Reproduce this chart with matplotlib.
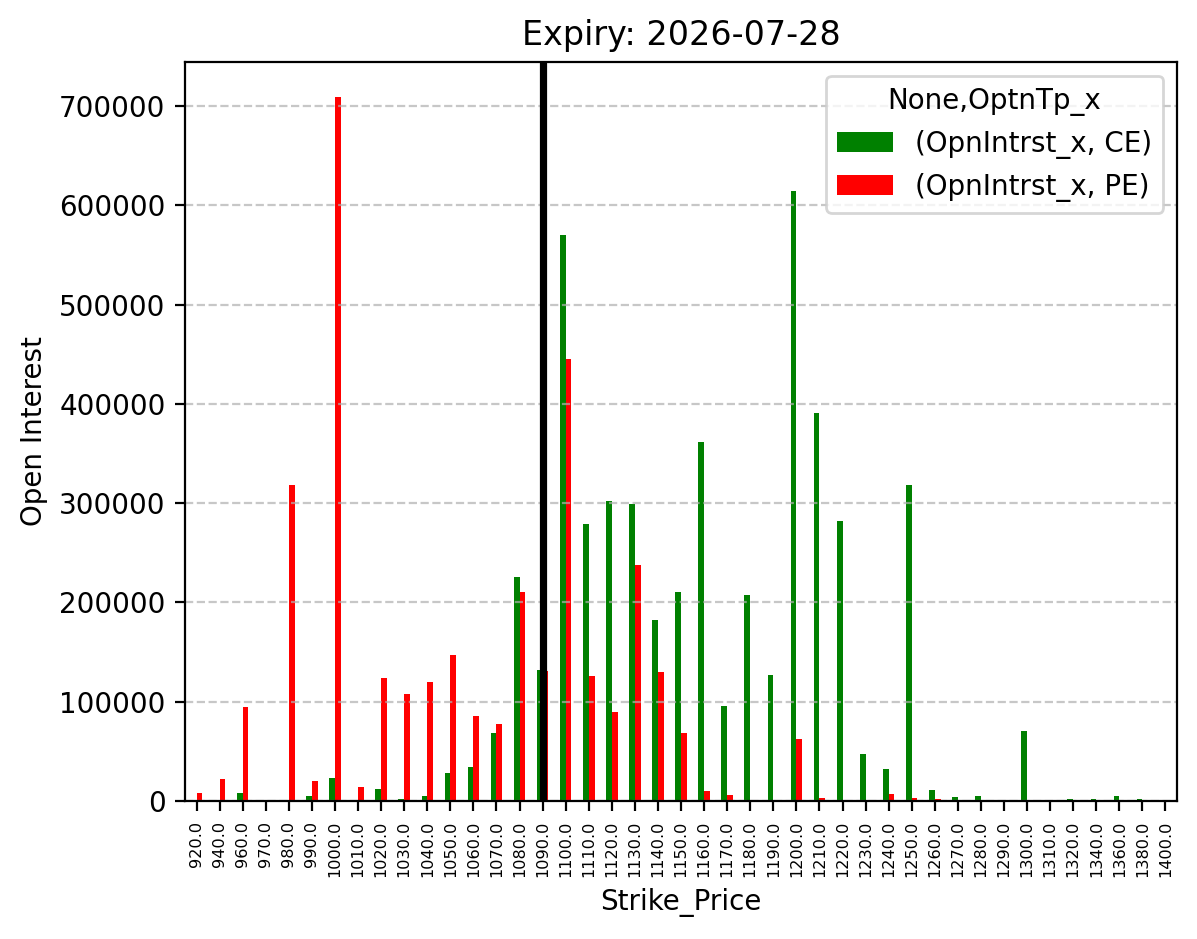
import numpy as np
import pandas as pd
import matplotlib
matplotlib.use("Agg")
import matplotlib.pyplot as plt

strikes = [920, 940, 960, 970, 980, 990, 1000, 1010, 1020, 1030, 1040, 1050, 1060, 1070,
           1080, 1090, 1100, 1110, 1120, 1130, 1140, 1150, 1160, 1170, 1180, 1190, 1200,
           1210, 1220, 1230, 1240, 1250, 1260, 1270, 1280, 1290, 1300, 1310, 1320, 1340,
           1360, 1380, 1400]

ce_oi = [0, 0, 8000, 0, 0, 4500, 23000, 0, 12000, 1500, 4500, 28000, 34000, 68500,
         225500, 132000, 570000, 279000, 302000, 299000, 182000, 210500, 361500, 95600, 207400,
         126800, 614500, 390600, 282000, 47300, 32200, 318000, 11000, 4000, 5000, 0, 70500,
         0, 1500, 1500, 5000, 1500, 0]

pe_oi = [8000, 22000, 94600, 0, 318000, 20000, 709000, 14000, 123800, 107700, 119800,
         147000, 85600, 77500, 210400, 131000, 445000, 125800, 89600, 237600, 129900, 68500,
         10500, 6500, 0, 0, 62400, 2500, 0, 0, 7000, 3000, 1500, 0, 0, 0, 0, 0, 0, 0, 0, 0, 0]

atm_strike = 1090
expiry = "2026-07-28"

cols = pd.MultiIndex.from_tuples([("OpnIntrst_x", "CE"), ("OpnIntrst_x", "PE")],
                                 names=[None, "OptnTp_x"])
df = pd.DataFrame(np.column_stack([ce_oi, pe_oi]),
                  index=pd.Index([float(s) for s in strikes], name="Strike_Price"),
                  columns=cols)

fig, ax = plt.subplots(figsize=(5.985, 4.695), dpi=200)
fig.subplots_adjust(left=0.1546, right=0.9833, bottom=0.147, top=0.934)

df.plot(kind="bar", ax=ax, color=["green", "red"])

ax.axvline(strikes.index(atm_strike), color="black", linewidth=2.6)

ax.set_title(f"Expiry: {expiry}", fontsize=12)
ax.set_xlabel("Strike_Price")
ax.set_ylabel("Open Interest")
ax.tick_params(axis="x", labelsize=5.8, labelrotation=90)
ax.grid(axis="y", linestyle="--", alpha=0.7)

fig.savefig("out.png", dpi=200)
